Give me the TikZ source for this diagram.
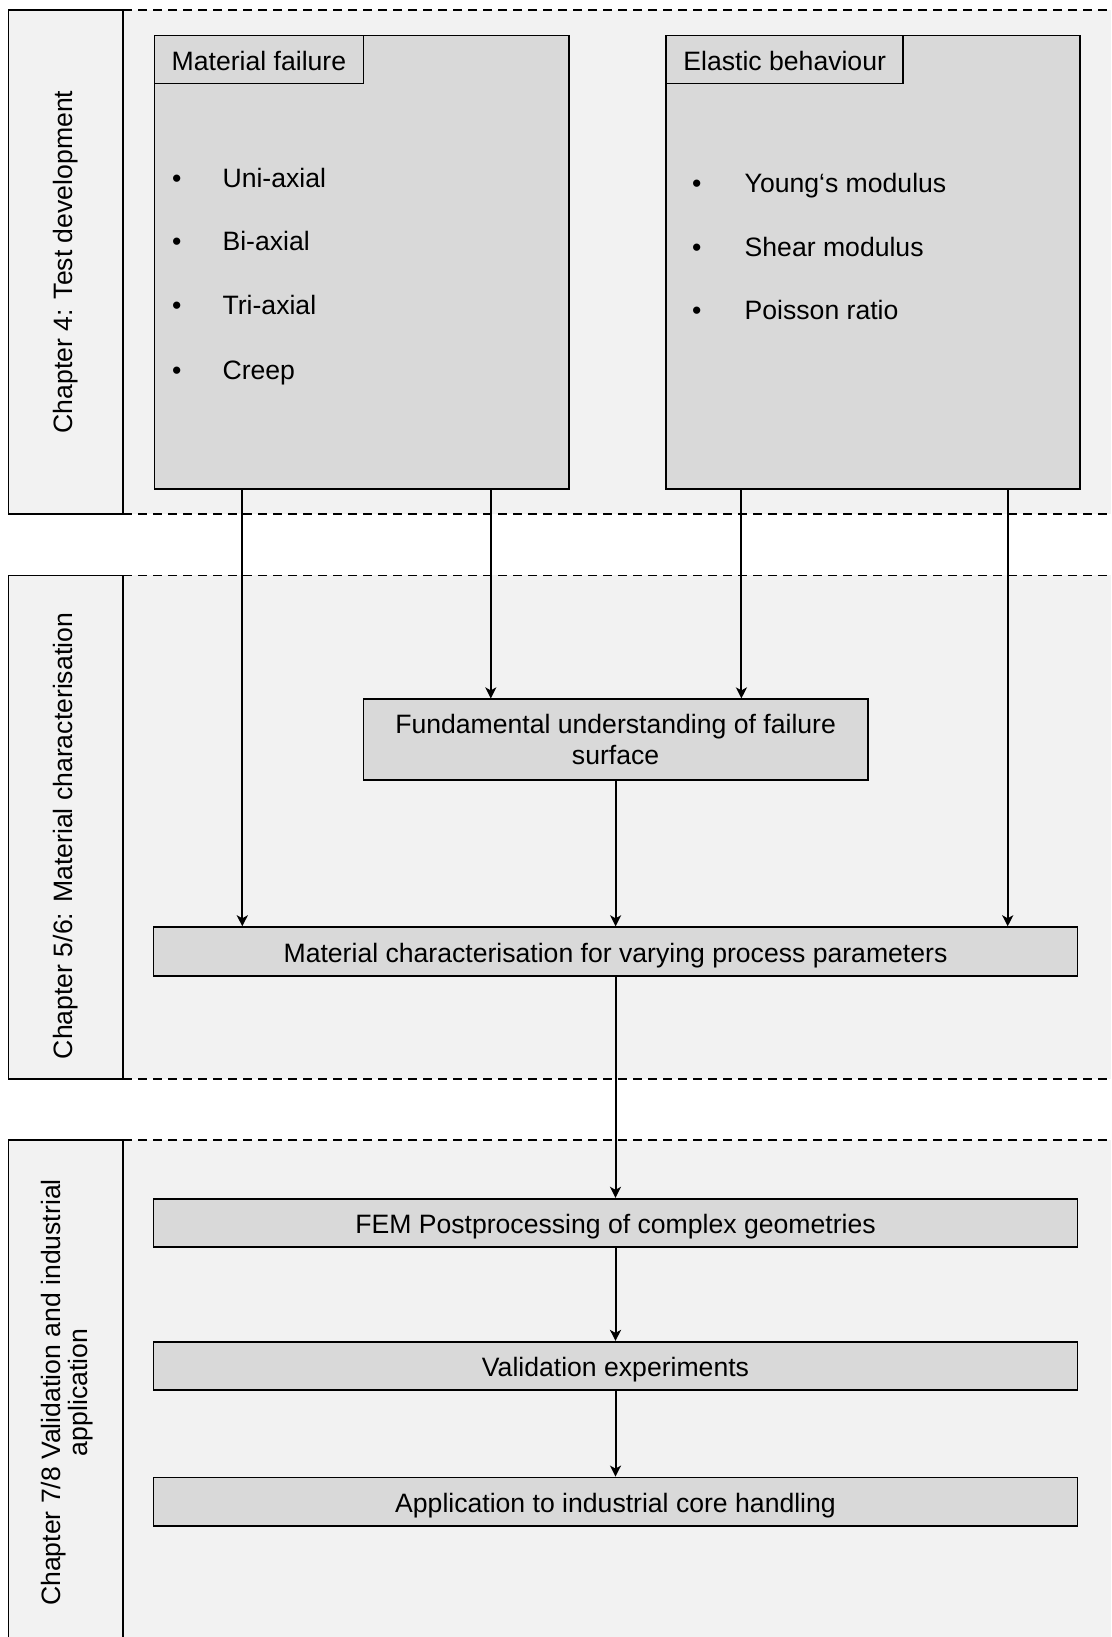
\documentclass[tikz,border=0pt]{standalone}
\usepackage{fontspec}
\setmainfont{Liberation Sans}
\usetikzlibrary{arrows.meta}
\definecolor{bandgray}{HTML}{F2F2F2}
\definecolor{boxgray}{HTML}{D9D9D9}
\begin{document}
\begin{tikzpicture}[x=1pt,y=-1pt,
  txt/.style={font=\fontsize{26.6}{31}\selectfont},
  dashline/.style={line width=1.8pt,dash pattern=on 9pt off 6pt},
  labelbox/.style={draw,line width=1.8pt,fill=bandgray},
  chap/.style={txt,rotate=90,align=center,inner sep=0pt},
  bigbox/.style={draw,line width=1.8pt,fill=boxgray,inner sep=0pt},
  tabbox/.style={draw,line width=1.8pt,fill=boxgray,inner sep=0pt,txt,text height=21.5pt,text depth=0pt},
  flowbox/.style={draw,line width=1.8pt,fill=boxgray,inner sep=0pt,txt,align=center},
  oneline/.style={text height=21.5pt,text depth=0pt},
  item/.style={txt,anchor=west,inner sep=0pt,text height=19.5pt,text depth=0pt},
  arr/.style={draw,line width=2pt,-{Stealth[length=11pt,width=11pt,inset=3pt]}}]
\useasboundingbox (0,0) rectangle (1111,1637);
% bands
\fill[bandgray] (8.4,10.4) rectangle (1111,513.7);
\fill[bandgray] (8.4,575.4) rectangle (1111,1078.7);
\fill[bandgray] (8.4,1140.3) rectangle (1111,1660);
\draw[dashline] (123.2,10.4) -- (1111,10.4);
\draw[dashline] (123.2,513.7) -- (1111,513.7);
\draw[dashline] (123.2,575.4) -- (1111,575.4);
\draw[dashline] (123.2,1078.7) -- (1111,1078.7);
\draw[dashline] (123.2,1140.3) -- (1111,1140.3);
\draw[labelbox] (8.4,10.4) rectangle (123.2,513.7);
\draw[labelbox] (8.4,575.4) rectangle (123.2,1078.7);
\draw[labelbox] (8.4,1140.3) rectangle (123.2,1660);
\node[chap] (c1) at (65.8,262) {Chapter 4: Test development};
\node[chap] (c2) at (65.8,836) {Chapter 5/6: Material characterisation};
\node[chap,font=\fontsize{26.6}{27.5}\selectfont] (c3) at (67,1392.5) {Chapter 7/8 Validation and industrial\\application};
% top boxes
\node[bigbox,minimum width=414.6pt,minimum height=453.2pt] (mf) at (361.8,262.1) {};
\node[tabbox,anchor=north west,minimum width=208.9pt,minimum height=48pt] (mft) at (mf.north west) {Material failure};
\node[bigbox,minimum width=413.5pt,minimum height=453.2pt] (eb) at (872.95,262.1) {};
\node[tabbox,anchor=north west,minimum width=237pt,minimum height=48pt] (ebt) at (eb.north west) {Elastic behaviour};
\node[item] (mf1) at (172,177.5) {\makebox[50.4pt][l]{•}Uni-axial};
\node[item] (mf2) at (172,241.2) {\makebox[50.4pt][l]{•}Bi-axial};
\node[item] (mf3) at (172,304.9) {\makebox[50.4pt][l]{•}Tri-axial};
\node[item] (mf4) at (172,369.6) {\makebox[50.4pt][l]{•}Creep};
\node[item] (eb1) at (692,182.7) {\makebox[52.5pt][l]{•}Young‘s modulus};
\node[item] (eb2) at (692,246.4) {\makebox[52.5pt][l]{•}Shear modulus};
\node[item] (eb3) at (692,310.1) {\makebox[52.5pt][l]{•}Poisson ratio};
% flow boxes
\node[flowbox,minimum width=504.3pt,minimum height=80.4pt] (fund) at (615.6,739.5) {Fundamental understanding of failure\\surface};
\node[flowbox,oneline,minimum width=924.1pt,minimum height=49.1pt] (mc) at (615.5,951.75) {Material characterisation for varying process parameters};
\node[flowbox,oneline,minimum width=924.1pt,minimum height=48.1pt] (fem) at (615.5,1222.75) {FEM Postprocessing of complex geometries};
\node[flowbox,oneline,minimum width=924.1pt,minimum height=48pt] (val) at (615.5,1365.8) {Validation experiments};
\node[flowbox,oneline,minimum width=924.1pt,minimum height=48.1pt] (app) at (615.5,1501.55) {Application to industrial core handling};
% connectors
\coordinate (xa) at (242.3,0);
\coordinate (xb) at (490.8,0);
\coordinate (xc) at (741.4,0);
\coordinate (xd) at (1007.7,0);
\draw[arr] (mf.south -| xa) -- (mc.north -| xa);
\draw[arr] (mf.south -| xb) -- (fund.north -| xb);
\draw[arr] (eb.south -| xc) -- (fund.north -| xc);
\draw[arr] (eb.south -| xd) -- (mc.north -| xd);
\draw[arr] (fund.south) -- (fund.south |- mc.north);
\draw[arr] (mc.south) -- (mc.south |- fem.north);
\draw[arr] (fem.south) -- (val.north);
\draw[arr] (val.south) -- (app.north);
\end{tikzpicture}
\end{document}
